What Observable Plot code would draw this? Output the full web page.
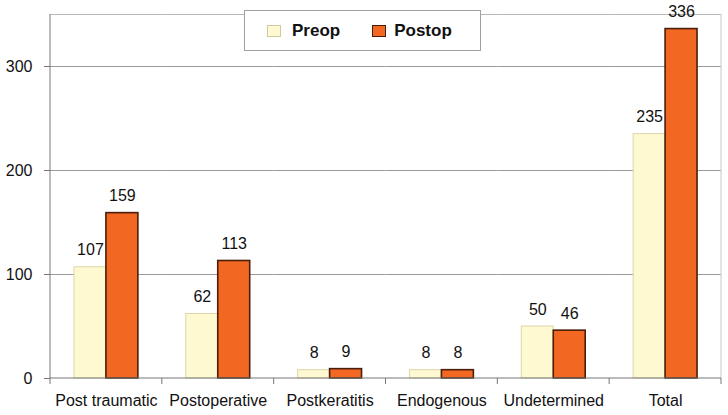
<!DOCTYPE html>
<html>
<head>
<meta charset="utf-8">
<script src="https://cdn.jsdelivr.net/npm/d3@7"></script>
<script src="https://cdn.jsdelivr.net/npm/@observablehq/plot@0.6"></script>
<style>
  html, body { margin: 0; padding: 0; background: #fff; }
  #wrap { position: relative; width: 728px; height: 415px; font-family: "Liberation Sans", Arial, sans-serif; }
  #legend { position: absolute; left: 244px; top: 10px; width: 237px; height: 41px; box-sizing: border-box;
    border: 1px solid #a0a0a0; background: #fff; display: flex; align-items: center; padding-left: 22px; }
  .item { display: flex; align-items: center; font-weight: bold; font-size: 17px; color: #111; }
  .sw { width: 14px; height: 12px; box-sizing: border-box; margin-right: 11px; }
</style>
</head>
<body>
<div id="wrap"></div>
<script>
const categories = ["Post traumatic", "Postoperative", "Postkeratitis", "Endogenous", "Undetermined", "Total"];
const series = ["Preop", "Postop"];
const preop = [107, 62, 8, 8, 50, 235];
const postop = [159, 113, 9, 8, 46, 336];
const yTicks = [0, 100, 200, 300];
const fills = ["#FFF9D2", "#F26722"];
const strokes = ["#DCD6A8", "#4A1E0A"];

const data = [];
categories.forEach((c, i) => {
  data.push({cat: c, s: "Preop", v: preop[i]});
  data.push({cat: c, s: "Postop", v: postop[i]});
});

const plot = Plot.plot({
  width: 728,
  height: 415,
  marginLeft: 50,
  marginRight: 7,
  marginTop: 14,
  marginBottom: 37,
  style: {fontFamily: "Liberation Sans, Arial, sans-serif", fontSize: "16px", color: "#111"},
  fx: {domain: categories, padding: 0, label: null, round: false},
  x: {domain: series, paddingInner: 0, paddingOuter: 0.75, axis: null, round: false},
  y: {domain: [0, 350], label: null},
  color: {domain: series, range: fills},
  marks: [
    Plot.ruleY(yTicks.slice(1), {stroke: "#9a9a9a", strokeWidth: 1}),
    Plot.ruleY([350], {stroke: "#b8b8b8", strokeWidth: 1}),
    Plot.barY(data, {fx: "cat", x: "s", y: "v", fill: "s",
      stroke: d => d.s === "Preop" ? strokes[0] : strokes[1],
      strokeWidth: d => d.s === "Preop" ? 1 : 1.6}),
    Plot.text(data, {fx: "cat", x: "s", y: "v", text: d => String(d.v), lineAnchor: "bottom", dy: -12, fontSize: 16, fill: "#111"}),
    Plot.axisY({ticks: yTicks, tickSize: 6, tickPadding: 12, fontSize: 16, stroke: "#777", label: null}),
    Plot.axisFx({anchor: "bottom", tickSize: 0, tickPadding: 16, fontSize: 16, label: null}),
  ]
});

// axis lines, right border and category boundary ticks from the fx and y scales
const svg = d3.select(plot);
const fx = plot.scale("fx");
const y = plot.scale("y");
const y0 = y.apply(0), yTop = y.apply(350);
const step = fx.step ?? fx.bandwidth;
const starts = categories.map(c => fx.apply(c));
const bounds = starts.concat([starts[starts.length - 1] + step]);
const xL = bounds[0], xR = bounds[bounds.length - 1];
const g = svg.append("g").attr("stroke-width", 1).attr("fill", "none");
g.append("line").attr("stroke", "#c8c8c8").attr("x1", xR).attr("x2", xR).attr("y1", yTop).attr("y2", y0);
g.append("line").attr("stroke", "#777").attr("x1", xL).attr("x2", xR).attr("y1", y0).attr("y2", y0);
g.append("line").attr("stroke", "#777").attr("x1", xL).attr("x2", xL).attr("y1", yTop).attr("y2", y0);
bounds.forEach(b => g.append("line").attr("stroke", "#777").attr("x1", b).attr("x2", b).attr("y1", y0).attr("y2", y0 + 6));

const wrap = document.getElementById("wrap");
wrap.appendChild(plot);
const legend = document.createElement("div");
legend.id = "legend";
series.forEach((s, i) => {
  const it = document.createElement("div");
  it.className = "item";
  it.style.marginRight = i === 0 ? "32px" : "0";
  const sw = document.createElement("span");
  sw.className = "sw";
  sw.style.background = fills[i];
  sw.style.border = "1px solid " + (i === 0 ? "#cfc9a0" : strokes[1]);
  if (i === 1) sw.style.marginRight = "8px";
  it.appendChild(sw);
  it.appendChild(document.createTextNode(s));
  legend.appendChild(it);
});
wrap.appendChild(legend);
</script>
</body>
</html>
